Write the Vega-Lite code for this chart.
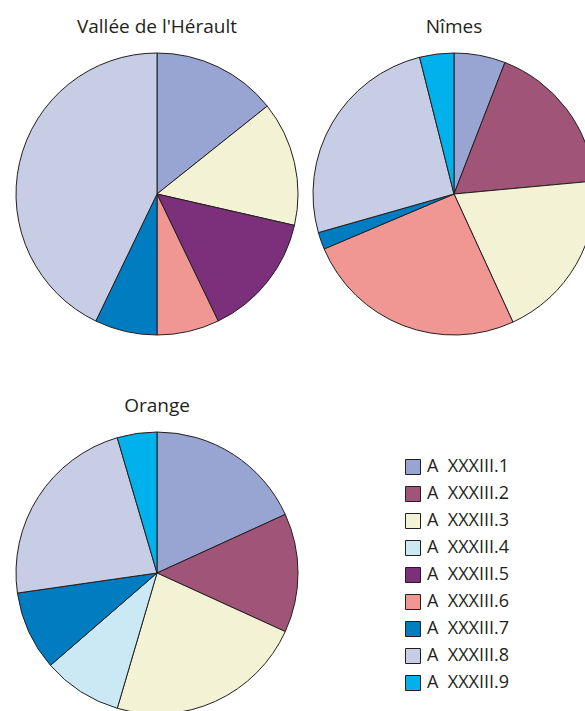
{
  "$schema": "https://vega.github.io/schema/vega-lite/v6.json",
  "padding": {"left": 14, "top": 18, "right": 0, "bottom": 0},
  "background": "white",
  "config": {
    "view": {"stroke": null},
    "font": "Open Sans",
    "title": {"fontSize": 19, "fontWeight": "normal", "color": "#231f20", "baseline": "alphabetic", "offset": 14},
    "legend": {
      "symbolType": "square",
      "symbolSize": 225,
      "symbolStrokeColor": "#231f20",
      "symbolStrokeWidth": 1,
      "symbolOpacity": 1,
      "labelFontSize": 18,
      "labelColor": "#231f20",
      "labelOffset": 5,
      "rowPadding": 7,
      "padding": 0
    }
  },
  "datasets": {
    "pies": [
      {"site": "Vallée de l'Hérault", "cat": "A XXXIII.1", "n": 2},
      {"site": "Vallée de l'Hérault", "cat": "A XXXIII.3", "n": 2},
      {"site": "Vallée de l'Hérault", "cat": "A XXXIII.5", "n": 2},
      {"site": "Vallée de l'Hérault", "cat": "A XXXIII.6", "n": 1},
      {"site": "Vallée de l'Hérault", "cat": "A XXXIII.7", "n": 1},
      {"site": "Vallée de l'Hérault", "cat": "A XXXIII.8", "n": 6},
      {"site": "Nîmes", "cat": "A XXXIII.1", "n": 3},
      {"site": "Nîmes", "cat": "A XXXIII.2", "n": 9},
      {"site": "Nîmes", "cat": "A XXXIII.3", "n": 10},
      {"site": "Nîmes", "cat": "A XXXIII.6", "n": 13},
      {"site": "Nîmes", "cat": "A XXXIII.7", "n": 1},
      {"site": "Nîmes", "cat": "A XXXIII.8", "n": 13},
      {"site": "Nîmes", "cat": "A XXXIII.9", "n": 2},
      {"site": "Orange", "cat": "A XXXIII.1", "n": 4},
      {"site": "Orange", "cat": "A XXXIII.2", "n": 3},
      {"site": "Orange", "cat": "A XXXIII.3", "n": 5},
      {"site": "Orange", "cat": "A XXXIII.4", "n": 2},
      {"site": "Orange", "cat": "A XXXIII.7", "n": 2},
      {"site": "Orange", "cat": "A XXXIII.8", "n": 5},
      {"site": "Orange", "cat": "A XXXIII.9", "n": 1}
    ]
  },
  "spacing": 60,
  "vconcat": [
    {
      "spacing": 11,
      "hconcat": [
        {
          "title": "Vallée de l'Hérault",
          "width": 282, "height": 282,
          "data": {"name": "pies"},
          "transform": [{"filter": "datum.site === \"Vallée de l'Hérault\""}],
          "mark": {"type": "arc", "stroke": "#231f20", "strokeWidth": 1},
          "encoding": {
            "theta": {"field": "n", "type": "quantitative", "stack": true},
            "order": {"field": "cat"},
            "color": {"field": "cat", "type": "nominal"}
          }
        },
        {
          "title": "Nîmes",
          "width": 282, "height": 282,
          "data": {"name": "pies"},
          "transform": [{"filter": "datum.site === 'Nîmes'"}],
          "mark": {"type": "arc", "stroke": "#231f20", "strokeWidth": 1},
          "encoding": {
            "theta": {"field": "n", "type": "quantitative", "stack": true},
            "order": {"field": "cat"},
            "color": {"field": "cat", "type": "nominal"}
          }
        }
      ]
    },
    {
      "title": "Orange",
      "width": 282, "height": 282,
      "data": {"name": "pies"},
      "transform": [{"filter": "datum.site === 'Orange'"}],
      "mark": {"type": "arc", "stroke": "#231f20", "strokeWidth": 1},
      "encoding": {
        "theta": {"field": "n", "type": "quantitative", "stack": true},
        "order": {"field": "cat"},
        "color": {
          "field": "cat", "type": "nominal",
          "scale": {
            "domain": ["A XXXIII.1", "A XXXIII.2", "A XXXIII.3", "A XXXIII.4", "A XXXIII.5", "A XXXIII.6", "A XXXIII.7", "A XXXIII.8", "A XXXIII.9"],
            "range": ["#98a4d1", "#a05578", "#f3f2d4", "#cbe9f4", "#7c2f7a", "#f09794", "#007dc1", "#c8cde6", "#00b1ec"]
          },
          "legend": {
            "title": null,
            "orient": "none",
            "legendX": 388,
            "legendY": 405,
            "labelExpr": "replace(datum.label, ' ', '\u00a0 ')"
          }
        }
      }
    }
  ],
  "resolve": {"scale": {"color": "shared"}}
}
